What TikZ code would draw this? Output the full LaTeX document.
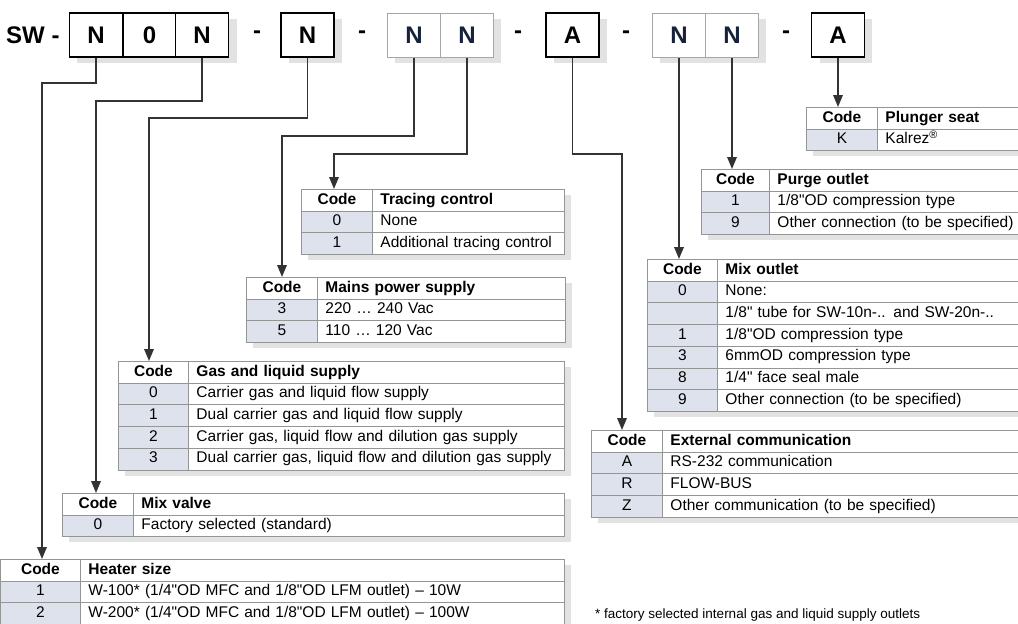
\documentclass[tikz,border=0pt]{standalone}
\usepackage{fontspec}
\setmainfont{Liberation Sans}[Ligatures=TeXOff]
\usetikzlibrary{arrows.meta}
\definecolor{codec}{HTML}{DEE2EC}
\definecolor{bordc}{HTML}{959595}
\definecolor{shadowc}{HTML}{E2E2E2}
\definecolor{linec}{HTML}{333333}
\definecolor{navy}{HTML}{16223A}
\newcounter{rowi}
\newcommand\tabstart[7]{%
  \def\TabN{#1}\def\TabX{#2}\def\TabC{#3}\def\TabY{#5}%
  \setcounter{rowi}{0}%
  \pgfmathsetmacro\TabWc{#3-#2}%
  \pgfmathsetmacro\TabWd{#4-#3-16}%
  \fill[shadowc] ({#2+7},{#5+6}) rectangle ({#4+7},{#5+(#7+1)*21.7+6});
  \node[cell, hdr, inner xsep=0pt, minimum width=\TabWc pt, align=center] (#1-h0) at (#2,#5) {Code};
  \node[cell, hdr, text width=\TabWd pt, align=left] (#1-h1) at (#3,#5) {#6};
}
\newcommand\crow[2]{%
  \stepcounter{rowi}%
  \pgfmathsetmacro\TabYY{\TabY+\arabic{rowi}*21.7}%
  \node[cell, fill=codec, inner xsep=0pt, minimum width=\TabWc pt, align=center] (\TabN-c\arabic{rowi}) at (\TabX,\TabYY) {#1};
  \node[cell, text width=\TabWd pt, align=left] (\TabN-d\arabic{rowi}) at (\TabC,\TabYY) {#2};
}
\begin{document}
\begin{tikzpicture}[x=1pt,y=-1pt,
  cell/.style={draw=bordc, line width=0.9pt, fill=white, anchor=north west,
    minimum height=21.7pt, inner sep=0pt, inner xsep=8pt,
    text height=11pt, text depth=3.5pt, font=\fontsize{15.5}{17}\selectfont},
  hdr/.style={font=\fontsize{15.5}{17}\selectfont\bfseries},
  topbox/.style={draw=black, line width=1.3pt, fill=white, minimum width=53pt,
    minimum height=44pt, inner sep=0pt, font=\fontsize{24}{27}\selectfont\bfseries},
  greybox/.style={topbox, draw=gray!70, line width=1pt, text=navy},
  sep/.style={font=\fontsize{24}{27}\selectfont\bfseries, inner sep=0pt},
  conn/.style={draw=linec, line width=1.8pt, -{Triangle[length=12pt,width=9.5pt]}}]
\useasboundingbox (0,0) rectangle (1018,624);
\clip (0,0) rectangle (1018,624);
\fill[white] (0,0) rectangle (1018,624);

% ---- top row shadows
\fill[shadowc] (77,19) rectangle (237,63);
\fill[shadowc] (289,19) rectangle (342,63);
\fill[shadowc] (395,19) rectangle (501,63);
\fill[shadowc] (554,19) rectangle (607,63);
\fill[shadowc] (660,19) rectangle (766,63);
\fill[shadowc] (820,19) rectangle (872,63);

% ---- top row
\node[sep, anchor=west] (sw) at (6,35) {SW -};
\node[topbox] (b1) at (96,35) {N};
\node[topbox] (b2) at (149.5,35) {0};
\node[topbox] (b3) at (202,35) {N};
\node[sep] (s1) at (257,35) {-};
\node[topbox] (b4) at (307.5,35) {N};
\node[sep] (s2) at (362,35) {-};
\node[greybox] (b5) at (414,35) {N};
\node[greybox] (b6) at (467,35) {N};
\node[sep] (s3) at (518,35) {-};
\node[topbox] (b7) at (572.5,35) {A};
\node[sep] (s4) at (626,35) {-};
\node[greybox] (b8) at (679,35) {N};
\node[greybox] (b9) at (732,35) {N};
\node[sep] (s5) at (786,35) {-};
\node[topbox] (b10) at (838,35) {A};

% ---- tables
\tabstart{pl}{806}{877}{1040}{107}{Plunger seat}{1}
\crow{K}{Kalrez\textsuperscript{\textregistered}}

\tabstart{pu}{701}{769}{1040}{169}{Purge outlet}{2}
\crow{1}{1/8"OD compression type}
\crow{9}{Other connection (to be specified)}

\tabstart{tc}{301}{372}{564}{189}{Tracing control}{2}
\crow{0}{None}
\crow{1}{Additional tracing control}

\tabstart{mp}{246}{317}{565}{277}{Mains power supply}{2}
\crow{3}{220 … 240 Vac}
\crow{5}{110 … 120 Vac}

\tabstart{mo}{647}{717}{1040}{259}{Mix outlet}{6}
\crow{0}{None:}
\crow{}{1/8" tube for SW-10n-.. and SW-20n-..}
\crow{1}{1/8"OD compression type}
\crow{3}{6mmOD compression type}
\crow{8}{1/4" face seal male}
\crow{9}{Other connection (to be specified)}

\tabstart{gl}{118}{188}{564}{361}{Gas and liquid supply}{4}
\crow{0}{Carrier gas and liquid flow supply}
\crow{1}{Dual carrier gas and liquid flow supply}
\crow{2}{Carrier gas, liquid flow and dilution gas supply}
\crow{3}{Dual carrier gas, liquid flow and dilution gas supply}

\tabstart{ec}{591}{662}{1040}{430}{External communication}{3}
\crow{A}{RS-232 communication}
\crow{R}{FLOW-BUS}
\crow{Z}{Other communication (to be specified)}

\tabstart{mv}{62}{133}{564}{493}{Mix valve}{1}
\crow{0}{Factory selected (standard)}

\tabstart{hs}{0}{80}{564}{559}{Heater size}{2}
\crow{1}{W-100* (1/4"OD MFC and 1/8"OD LFM outlet) – 10W}
\crow{2}{W-200* (1/4"OD MFC and 1/8"OD LFM outlet) – 100W}

\node[anchor=west, inner sep=0pt, font=\fontsize{13.5}{15}\selectfont] (fn) at (595,615) {* factory selected internal gas and liquid supply outlets};

% ---- connectors
\coordinate (k1) at (42,83);
\coordinate (k3) at (96,101);
\coordinate (k4) at (149,118);
\coordinate (k5) at (282,136);
\coordinate (k6) at (334,154);
\coordinate (k7) at (622,154);
\draw[conn] (b1.south) |- (k1) -- (k1 |- hs-h0.north);
\draw[conn] (b3.south) |- (k3) -- (k3 |- mv-h0.north);
\draw[conn] (b4.south) |- (k4) -- (k4 |- gl-h0.north);
\draw[conn] (b5.south) |- (k5) -- (k5 |- mp-h0.north);
\draw[conn] (b6.south) |- (k6) -- (k6 |- tc-h0.north);
\draw[conn] (b7.south) |- (k7) -- (k7 |- ec-h0.north);
\draw[conn] (b8.south) -- (b8.south |- mo-h0.north);
\draw[conn] (b9.south) -- (b9.south |- pu-h0.north);
\draw[conn] (b10.south) -- (b10.south |- pl-h0.north);
\end{tikzpicture}
\end{document}
